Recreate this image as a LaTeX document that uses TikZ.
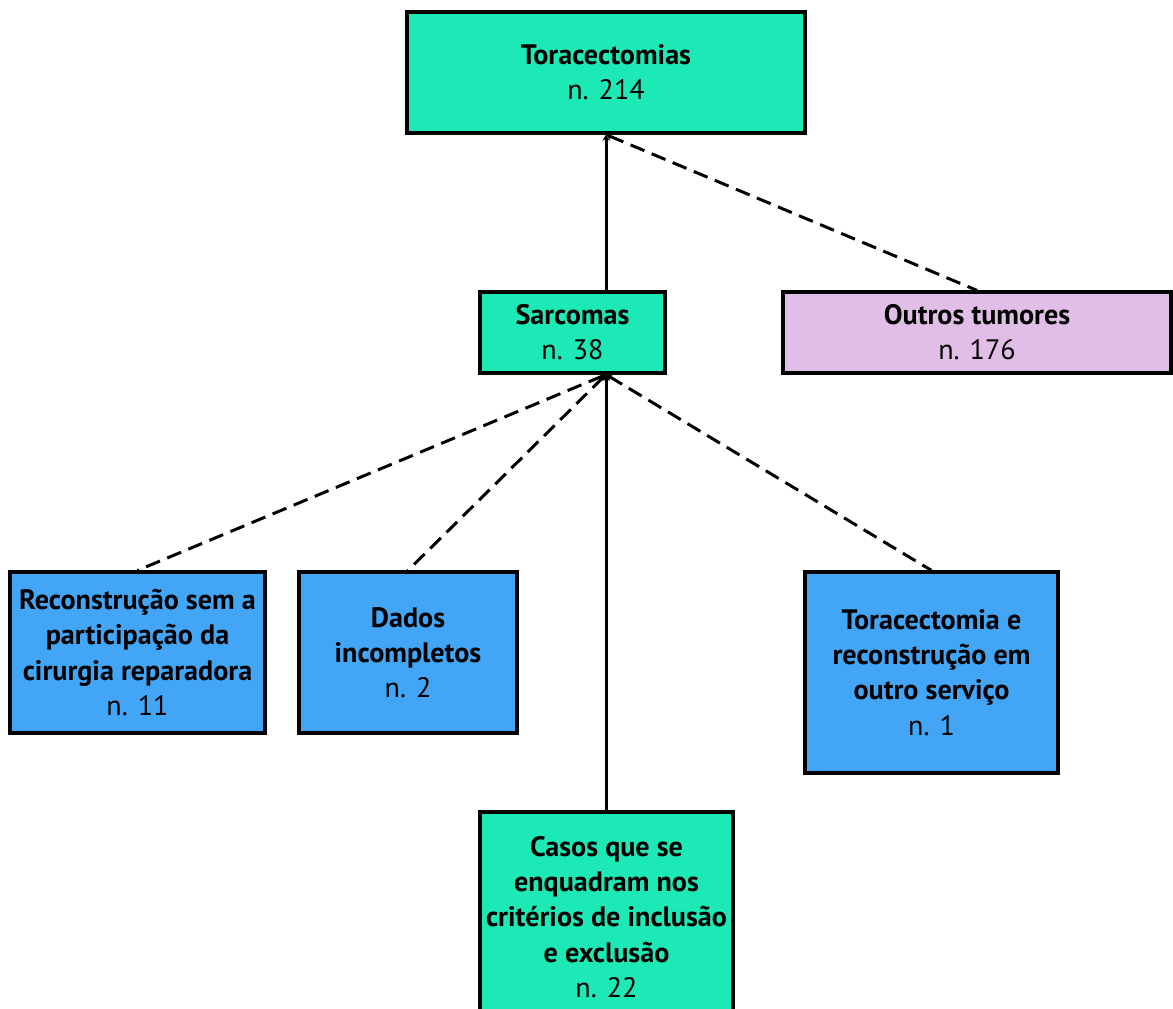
\documentclass[tikz,border=0pt]{standalone}
\usepackage{fontspec}
\setmainfont{PT Sans}
\usetikzlibrary{arrows.meta}
\definecolor{boxgreen}{HTML}{1DE9B6}
\definecolor{boxpink}{HTML}{E1BEE7}
\definecolor{boxblue}{HTML}{42A5F5}
\tikzset{
  box/.style={draw=black, line width=1.8pt, align=center, inner sep=0pt,
    font=\fontsize{16}{20}\selectfont},
  conn/.style={line width=1.7pt, black, {Stealth[length=3.5pt,width=4pt]}-},
  dconn/.style={conn, dash pattern=on 8.5pt off 4.5pt},
}
\newcommand{\nn}[1]{\textnormal{n. #1}}
\begin{document}
\begin{tikzpicture}[x=0.02cm,y=-0.02cm]
\useasboundingbox (0,0) rectangle (1173,1008);
\clip (0,0) rectangle (1173,1008);
\node[box, fill=boxgreen, minimum width=7.96cm, minimum height=2.42cm] (tor) at (606,72.5)
  {\bfseries Toracectomias\\ \nn{214}};
\node[box, fill=boxgreen, minimum width=3.7cm, minimum height=1.62cm] (sar) at (572.5,332.5)
  {\bfseries Sarcomas\\ \nn{38}};
\node[box, fill=boxpink, minimum width=7.76cm, minimum height=1.62cm] (out) at (977,332.5)
  {\bfseries Outros tumores\\ \nn{176}};
\node[box, fill=boxblue, minimum width=5.1cm, minimum height=3.22cm] (rec) at (137.5,652.5)
  {\bfseries Reconstrução sem a\\ \bfseries participação da\\ \bfseries cirurgia reparadora\\ \nn{11}};
\node[box, fill=boxblue, minimum width=4.36cm, minimum height=3.22cm] (dad) at (408,652.5)
  {\bfseries Dados\\ \bfseries incompletos\\ \nn{2}};
\node[box, fill=boxblue, minimum width=5.06cm, minimum height=4.02cm] (tre) at (931.5,672.5)
  {\bfseries Toracectomia e\\ \bfseries reconstrução em\\ \bfseries outro serviço\\ \nn{1}};
\node[box, fill=boxgreen, minimum width=5.06cm, minimum height=4.2cm] (cas) at (606.5,917)
  {\bfseries Casos que se\\ \bfseries enquadram nos\\ \bfseries critérios de inclusão\\ \bfseries e exclusão\\ \nn{22}};
\coordinate (tb) at (tor.south);
\coordinate (sb) at (sar.south -| tor.south);
\draw[conn] (tb) -- (tb |- sar.north);
\draw[dconn] (tb) -- (out.north);
\draw[dconn] (sb) -- (rec.north);
\draw[dconn] (sb) -- (dad.north);
\draw[conn] (sb) -- (sb |- cas.north);
\draw[dconn] (sb) -- (tre.north);
\end{tikzpicture}
\end{document}
